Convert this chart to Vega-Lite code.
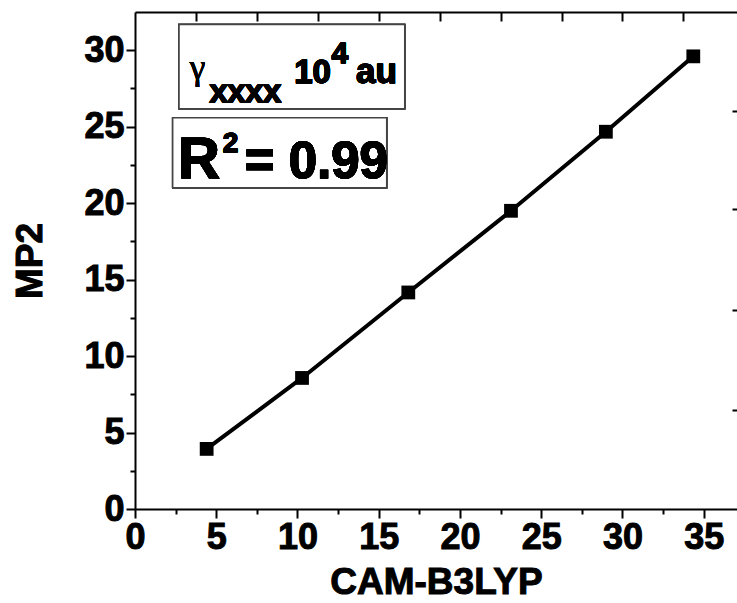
{
  "$schema": "https://vega.github.io/schema/vega-lite/v6.json",
  "width": 602,
  "height": 497,
  "autosize": {"type": "none"},
  "padding": {"left": 135, "top": 12, "right": 0, "bottom": 94},
  "background": "white",
  "config": {
    "view": {"stroke": null},
    "axis": {
      "grid": false,
      "domainColor": "black",
      "domainWidth": 2,
      "tickColor": "black",
      "tickWidth": 2,
      "labelColor": "black",
      "labelFont": "Liberation Sans",
      "labelFontWeight": "bold",
      "labelFontSize": 36,
      "labelOverlap": false,
      "labelFlush": false,
      "titleColor": "black",
      "titleFont": "Liberation Sans",
      "titleFontWeight": "bold",
      "titleFontSize": 37
    }
  },
  "data": {
    "values": [
      {"x": 4.41, "y": 3.93},
      {"x": 10.28, "y": 8.57},
      {"x": 16.82, "y": 14.16},
      {"x": 23.14, "y": 19.5},
      {"x": 28.98, "y": 24.67},
      {"x": 34.36, "y": 29.6}
    ]
  },
  "resolve": {"axis": {"x": "independent", "y": "independent"}},
  "layer": [
    {
      "mark": {"type": "line", "color": "black", "strokeWidth": 4},
      "encoding": {
        "x": {
          "field": "x", "type": "quantitative",
          "scale": {"domain": [0, 37.05], "nice": false, "zero": false},
          "axis": {"orient": "bottom", "values": [0, 5, 10, 15, 20, 25, 30, 35], "tickSize": 9, "labelPadding": 2, "title": "CAM-B3LYP", "titlePadding": 9,
            "encoding": {"labels": {"stroke": {"value": "black"}, "strokeWidth": {"value": 1}}, "title": {"stroke": {"value": "black"}, "strokeWidth": {"value": 1}}}}
        },
        "y": {
          "field": "y", "type": "quantitative",
          "scale": {"domain": [0, 32.5], "nice": false, "zero": false},
          "axis": {"orient": "left", "values": [0, 5, 10, 15, 20, 25, 30], "tickSize": 9, "labelPadding": 2, "title": "MP2", "titlePadding": 34,
            "encoding": {"labels": {"stroke": {"value": "black"}, "strokeWidth": {"value": 1}}, "title": {"stroke": {"value": "black"}, "strokeWidth": {"value": 1}}}}
        }
      }
    },
    {
      "mark": {"type": "point", "shape": "square", "filled": true, "size": 190, "color": "black", "opacity": 1},
      "encoding": {
        "x": {
          "field": "x", "type": "quantitative",
          "axis": {"orient": "bottom", "values": [2.5, 7.5, 12.5, 17.5, 22.5, 27.5, 32.5], "tickSize": 5, "labels": false, "domain": false, "title": null}
        },
        "y": {
          "field": "y", "type": "quantitative",
          "axis": {"orient": "left", "values": [2.5, 7.5, 12.5, 17.5, 22.5, 27.5], "tickSize": 5, "labels": false, "domain": false, "title": null}
        }
      }
    },
    {
      "mark": {"type": "point", "opacity": 0},
      "encoding": {
        "x": {
          "field": "x", "type": "quantitative",
          "axis": {"orient": "top", "values": [3.75, 7.5, 11.25, 15, 18.75, 22.5, 26.25, 30, 33.75], "tickSize": -9, "labels": false, "domain": true, "title": null}
        },
        "y": {
          "field": "y", "type": "quantitative",
          "axis": {"orient": "right", "values": [6.5, 13, 19.6, 26], "tickSize": -5, "labels": false, "domain": false, "title": null}
        }
      }
    },
    {
      "mark": {"type": "rect", "fill": "white", "stroke": "#444444", "strokeWidth": 1.5},
      "encoding": {
        "x": {"datum": 2.71, "type": "quantitative", "axis": null},
        "x2": {"datum": 16.6},
        "y": {"datum": 31.68, "type": "quantitative", "axis": null},
        "y2": {"datum": 26.18}
      }
    },
    {
      "mark": {"type": "rect", "fill": "white", "stroke": "#444444", "strokeWidth": 1.5},
      "encoding": {
        "x": {"datum": 2.32, "type": "quantitative", "axis": null},
        "x2": {"datum": 15.49},
        "y": {"datum": 25.59, "type": "quantitative", "axis": null},
        "y2": {"datum": 21.0}
      }
    },
    {
      "mark": {"type": "text", "text": "γ", "font": "Liberation Serif", "fontSize": 36, "fontWeight": "normal", "align": "left", "baseline": "alphabetic", "color": "black"},
      "encoding": {
        "x": {"datum": 3.35, "type": "quantitative", "axis": null},
        "y": {"datum": 28.1, "type": "quantitative", "axis": null}
      }
    },
    {
      "mark": {"type": "text", "text": "xxxx", "font": "Liberation Sans", "fontSize": 32, "fontWeight": "bold", "align": "left", "baseline": "alphabetic", "color": "black", "stroke": "black", "strokeWidth": 1},
      "encoding": {
        "x": {"datum": 4.6, "type": "quantitative", "axis": null},
        "y": {"datum": 26.64, "type": "quantitative", "axis": null}
      }
    },
    {
      "mark": {"type": "text", "text": "10", "font": "Liberation Sans", "fontSize": 33, "fontWeight": "bold", "align": "left", "baseline": "alphabetic", "color": "black", "stroke": "black", "strokeWidth": 0.8},
      "encoding": {
        "x": {"datum": 9.8, "type": "quantitative", "axis": null},
        "y": {"datum": 27.88, "type": "quantitative", "axis": null}
      }
    },
    {
      "mark": {"type": "text", "text": "4", "font": "Liberation Sans", "fontSize": 30, "fontWeight": "bold", "align": "left", "baseline": "alphabetic", "color": "black", "stroke": "black", "strokeWidth": 0.8},
      "encoding": {
        "x": {"datum": 12.1, "type": "quantitative", "axis": null},
        "y": {"datum": 29.19, "type": "quantitative", "axis": null}
      }
    },
    {
      "mark": {"type": "text", "text": "au", "font": "Liberation Sans", "fontSize": 35, "fontWeight": "bold", "align": "left", "baseline": "alphabetic", "color": "black", "stroke": "black", "strokeWidth": 0.8},
      "encoding": {
        "x": {"datum": 13.6, "type": "quantitative", "axis": null},
        "y": {"datum": 27.88, "type": "quantitative", "axis": null}
      }
    },
    {
      "mark": {"type": "text", "text": "R", "font": "Liberation Sans", "fontSize": 58, "fontWeight": "bold", "align": "left", "baseline": "alphabetic", "color": "black", "stroke": "black", "strokeWidth": 1},
      "encoding": {
        "x": {"datum": 2.65, "type": "quantitative", "axis": null},
        "y": {"datum": 21.66, "type": "quantitative", "axis": null}
      }
    },
    {
      "mark": {"type": "text", "text": "2", "font": "Liberation Sans", "fontSize": 28, "fontWeight": "bold", "align": "left", "baseline": "alphabetic", "color": "black", "stroke": "black", "strokeWidth": 0.8},
      "encoding": {
        "x": {"datum": 5.4, "type": "quantitative", "axis": null},
        "y": {"datum": 23.36, "type": "quantitative", "axis": null}
      }
    },
    {
      "mark": {"type": "text", "text": "= 0.99", "font": "Liberation Sans", "fontSize": 51, "fontWeight": "bold", "align": "left", "baseline": "alphabetic", "color": "black", "stroke": "black", "strokeWidth": 1},
      "encoding": {
        "x": {"datum": 6.75, "type": "quantitative", "axis": null},
        "y": {"datum": 21.66, "type": "quantitative", "axis": null}
      }
    }
  ]
}
